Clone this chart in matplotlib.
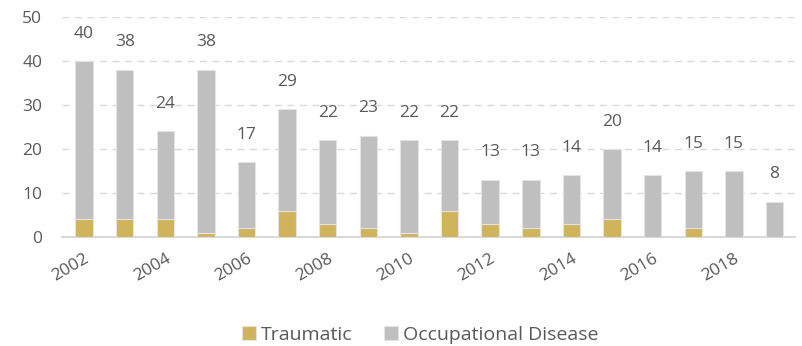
import matplotlib.pyplot as plt
import numpy as np

years = list(range(2002, 2020))
traumatic = [4, 4, 4, 1, 2, 6, 3, 2, 1, 6, 3, 2, 3, 4, 0, 2, 0, 0]
totals = [40, 38, 24, 38, 17, 29, 22, 23, 22, 22, 13, 13, 14, 20, 14, 15, 15, 8]
occupational = [t - a for t, a in zip(totals, traumatic)]
tick_years = [str(y) if y % 2 == 0 else '' for y in years]

plt.rcParams['font.family'] = ['Open Sans', 'DejaVu Sans']
txt = '#595959'

fig = plt.figure(figsize=(8.02, 3.46), dpi=100)
ax = fig.add_axes([0.077, 0.315, 0.914, 0.636])

x = np.arange(len(years))
ax.bar(x, traumatic, width=0.43, color='#CFB45B', edgecolor='#E3E3E3', linewidth=0.8,
       label='Traumatic', zorder=3)
ax.bar(x, occupational, width=0.43, bottom=traumatic, color='#BFBFBF', edgecolor='#E3E3E3',
       linewidth=0.8, label='Occupational Disease', zorder=3)

# totals above each stack
for i, t in enumerate(totals):
    ax.text(i, t + 4.4, str(t), ha='center', va='bottom', fontsize=12.5, color=txt)

ax.set_ylim(0, 50)
ax.set_xlim(-0.55, 17.5)
ax.set_yticks(range(0, 51, 10))
ax.set_xticks(x)
ax.set_xticklabels(tick_years, rotation=30, ha='right', rotation_mode='anchor')
ax.tick_params(axis='both', length=0, labelsize=12.5, colors=txt)
ax.tick_params(axis='x', pad=10)
ax.tick_params(axis='y', pad=14)
ax.grid(axis='y', linestyle=(0, (5, 4)), color='#D9D9D9', linewidth=1, zorder=0)
for s in ['top', 'right', 'left']:
    ax.spines[s].set_visible(False)
ax.spines['bottom'].set_color('#D9D9D9')
ax.spines['bottom'].set_linewidth(1.5)

fig.legend(loc='lower center', bbox_to_anchor=(0.524, -0.045), ncol=2, frameon=False,
           fontsize=14, labelcolor=txt, handlelength=0.75, handleheight=0.75,
           handletextpad=0.25, columnspacing=1.6)

fig.savefig('out.png', dpi=100)
